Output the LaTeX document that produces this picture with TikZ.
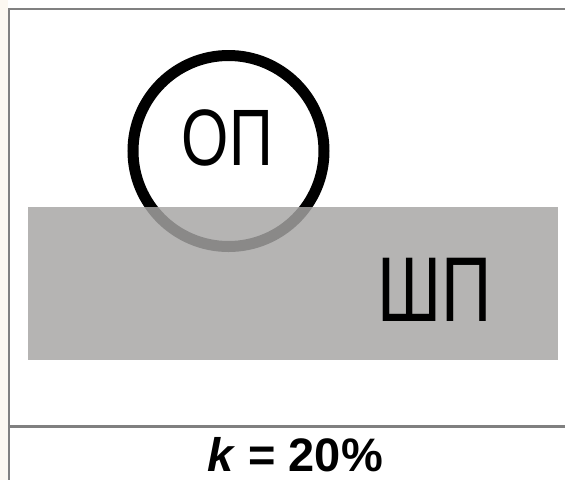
\documentclass[tikz,border=0pt]{standalone}
\usepackage{fontspec}
\setmainfont{Liberation Sans}
\definecolor{framegray}{RGB}{128,128,128}
\definecolor{plategray}{RGB}{166,165,164}
\definecolor{paper}{RGB}{252,248,241}
\tikzset{
  frameline/.style={draw=framegray, line width=2.5pt},
  ring/.style={draw=black, line width=11pt},
  plate/.style={fill=plategray, fill opacity=0.83},
  bigtext/.style={inner sep=0pt, anchor=base, font=#1},
}
\begin{document}
\begin{tikzpicture}[x=1pt, y=-1pt]
  \useasboundingbox (0,0) rectangle (565,480);
  \fill[paper] (0,0) rectangle (8,480);
  \fill[white] (8,0) rectangle (565,480);
  % frame lines
  \coordinate (tl) at (9,9);
  \coordinate (tr) at (565,9);
  \coordinate (bl) at (9,480);
  \coordinate (ml) at (9,426.7);
  \coordinate (mr) at (565,426.7);
  \draw[frameline] (tr) -- (tl) -- (bl);
  \draw[frameline] (ml) -- (mr);
  % circle and plate
  \node[ring, circle, minimum size=191pt, inner sep=0pt] (op) at (228.5,151) {};
  \path[plate] (28,207) rectangle (558,360);
  % labels
  \node[bigtext={\fontsize{80}{96}\selectfont}] (oplabel) at (227.4,165) {\scalebox{0.76}[1]{ОП}};
  \node[bigtext={\fontsize{92}{110}\selectfont}] (shplabel) at (434.2,321.7) {\scalebox{0.76}[1]{ШП}};
  \node[bigtext={\fontsize{47}{56}\selectfont\bfseries}] (kval) at (295,471) {\textit{k} = 20\%};
\end{tikzpicture}
\end{document}
